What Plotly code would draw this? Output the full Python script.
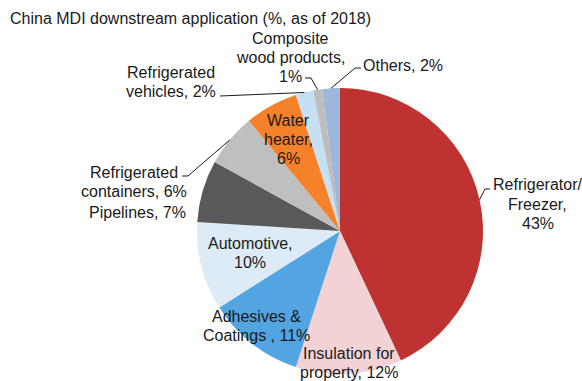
import math
import plotly.graph_objects as go

# China MDI downstream application shares (%, 2018), clockwise from 12 o'clock
categories = [
    "Refrigerator/Freezer", "Insulation for property", "Adhesives & Coatings",
    "Automotive", "Pipelines", "Refrigerated containers", "Water heater",
    "Refrigerated vehicles", "Composite wood products", "Others",
]
shares = [43, 12, 11, 10, 7, 6, 6, 2, 1, 2]
label_heads = [
    "Refrigerator/<br>Freezer,<br>", "Insulation for<br>property, ",
    "Adhesives &<br>Coatings , ", "Automotive,<br>", "Pipelines, ",
    "Refrigerated<br>containers, ", "Water<br>heater,<br>",
    "Refrigerated<br>vehicles, ", "Composite<br>wood products,<br>", "Others, ",
]
colors = [
    "#BF3232", "#F2D2D4", "#52A5E0", "#DDEBF7", "#595959",
    "#BFBFBF", "#F5822A", "#C5E0F4", "#BDBDBD", "#9EB6DA",
]

W, H = 582, 381
CX, CY, R = 340, 231, 143  # pie centre and radius in pixels
FONT = "Liberation Sans, Arial, sans-serif"
TXT = "#1A1A1A"
LINE_H = 19  # pixel spacing between label lines


def px(x, y):
    return x / W, 1 - y / H


fig = go.Figure(go.Pie(
    labels=categories,
    values=shares,
    sort=False,
    direction="clockwise",
    rotation=0,
    marker=dict(colors=colors, line=dict(width=0)),
    textinfo="none",
    hoverinfo="label+percent",
    showlegend=False,
    domain=dict(x=[(CX - R) / W, (CX + R) / W], y=[1 - (CY + R) / H, 1 - (CY - R) / H]),
))

# label block centres in pixels, one per category
label_pos = [
    (537.5, 204), (349, 362.5), (256, 325.5), (249.5, 253), (137.5, 212),
    (134, 182), (288, 140), (171.3, 82.5), (290.5, 57.5), (403, 65),
]

annotations = []
for head, v, (x, y) in zip(label_heads, shares, label_pos):
    lines = f"{head}{v}%".split("<br>")
    n = len(lines)
    for k, line in enumerate(lines):
        xp, yp = px(x, y + (k - (n - 1) / 2) * LINE_H)
        annotations.append(dict(
            x=xp, y=yp, xref="paper", yref="paper", xanchor="center", yanchor="middle",
            text=line, showarrow=False, align="center",
            font=dict(family=FONT, size=16, color=TXT),
        ))

# leader lines: label-side points, ending at the slice mid-angle on the rim
total = sum(shares)
cum = 0
mids = []
for v in shares:
    mids.append((cum + v / 2) / total * 2 * math.pi)
    cum += v


def rim(i):
    a = mids[i]
    return CX + R * math.sin(a), CY - R * math.cos(a)


leaders = {
    0: [(490, 189), (485, 189)],
    5: [(182, 176), (188, 176)],
    7: [(220, 96)],
    8: [(305, 78), (311, 78)],
    9: [(361, 68), (355, 68)],
}
shapes = []
for i, pts in leaders.items():
    path_pts = pts + [rim(i)]
    d = ""
    for k, (x, y) in enumerate(path_pts):
        xp, yp = px(x, y)
        d += ("M" if k == 0 else " L") + f" {xp:.5f},{yp:.5f}"
    shapes.append(dict(type="path", path=d, xref="paper", yref="paper",
                       line=dict(color="#1A1A1A", width=1)))

fig.update_layout(
    width=W, height=H,
    margin=dict(l=0, r=0, t=0, b=0),
    paper_bgcolor="white", plot_bgcolor="white",
    title=dict(
        text="China MDI downstream application (%, as of 2018)",
        x=10 / W, xanchor="left", xref="paper",
        y=1 - 18 / H, yanchor="middle", yref="container",
        font=dict(family=FONT, size=16, color=TXT),
    ),
    annotations=annotations,
    shapes=shapes,
)

fig.write_html("out.html")
